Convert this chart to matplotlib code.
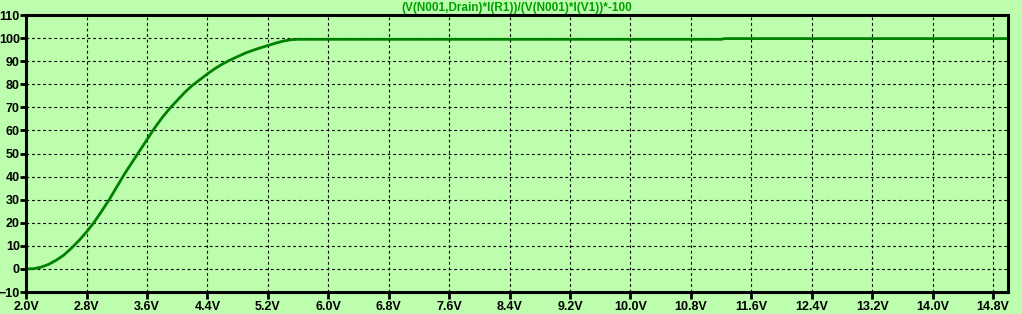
import numpy as np
import matplotlib.pyplot as plt

# barrido de tensión (V) y resultado de la expresión
vin = [2.0, 2.1, 2.2, 2.3, 2.4, 2.5, 2.6, 2.7, 2.8, 2.9, 3.0, 3.1, 3.2, 3.3, 3.4,
       3.5, 3.6, 3.7, 3.8, 3.9, 4.0, 4.1, 4.2, 4.3, 4.4, 4.5, 4.6, 4.7, 4.8, 4.9,
       5.0, 5.1, 5.2, 5.3, 5.4, 5.5, 5.6, 11.2, 11.25, 15.0]
valor = [0.0, 0.1, 0.8, 2.0, 3.8, 6.0, 9.0, 12.3, 16.0, 20.2, 25.0, 30.0, 35.5, 41.0, 46.0,
         51.0, 56.0, 61.0, 65.5, 69.5, 73.0, 76.5, 79.5, 82.0, 84.5, 86.8, 88.8, 90.5, 92.0, 93.5,
         94.7, 95.8, 96.8, 97.8, 98.7, 99.3, 99.5, 99.5, 99.8, 99.8]
xticks = [2.0, 2.8, 3.6, 4.4, 5.2, 6.0, 6.8, 7.6, 8.4, 9.2, 10.0, 10.8, 11.6, 12.4, 13.2, 14.0, 14.8]
yticks = [-10, 0, 10, 20, 30, 40, 50, 60, 70, 80, 90, 100, 110]
titulo = "(V(N001,Drain)*I(R1))/(V(N001)*I(V1))*-100"

fondo = "#bdfdae"
fig = plt.figure(figsize=(10.22, 3.14), dpi=100, facecolor=fondo)
ax = fig.add_axes([0.0255, 0.070, 0.961, 0.882], facecolor=fondo)

ax.plot(vin, valor, color="#008000", linewidth=2)

ax.set_xlim(2.0, 15.0)
ax.set_ylim(-10, 110)
ax.set_xticks(xticks)
ax.set_xticklabels([f"{t:.1f}V" for t in xticks])
ax.set_yticks(yticks)

# cuadricula punteada
ax.grid(True, color="black", linestyle=(0, (2.5, 2.5)), linewidth=0.8)
for s in ax.spines.values():
    s.set_linewidth(2.2)
ax.tick_params(axis="x", direction="out", length=5, width=2, pad=1.5)
ax.tick_params(axis="y", direction="out", length=4, width=2, pad=0.5)
for lab in ax.get_xticklabels() + ax.get_yticklabels():
    lab.set_fontfamily("Liberation Sans")
    lab.set_fontweight("bold")
    lab.set_fontsize(9)

ax.set_title(titulo, color="#00a000", fontfamily="Liberation Sans", fontweight="bold",
             fontsize=8.5, pad=3)

plt.savefig("out.png", dpi=100, facecolor=fondo)
